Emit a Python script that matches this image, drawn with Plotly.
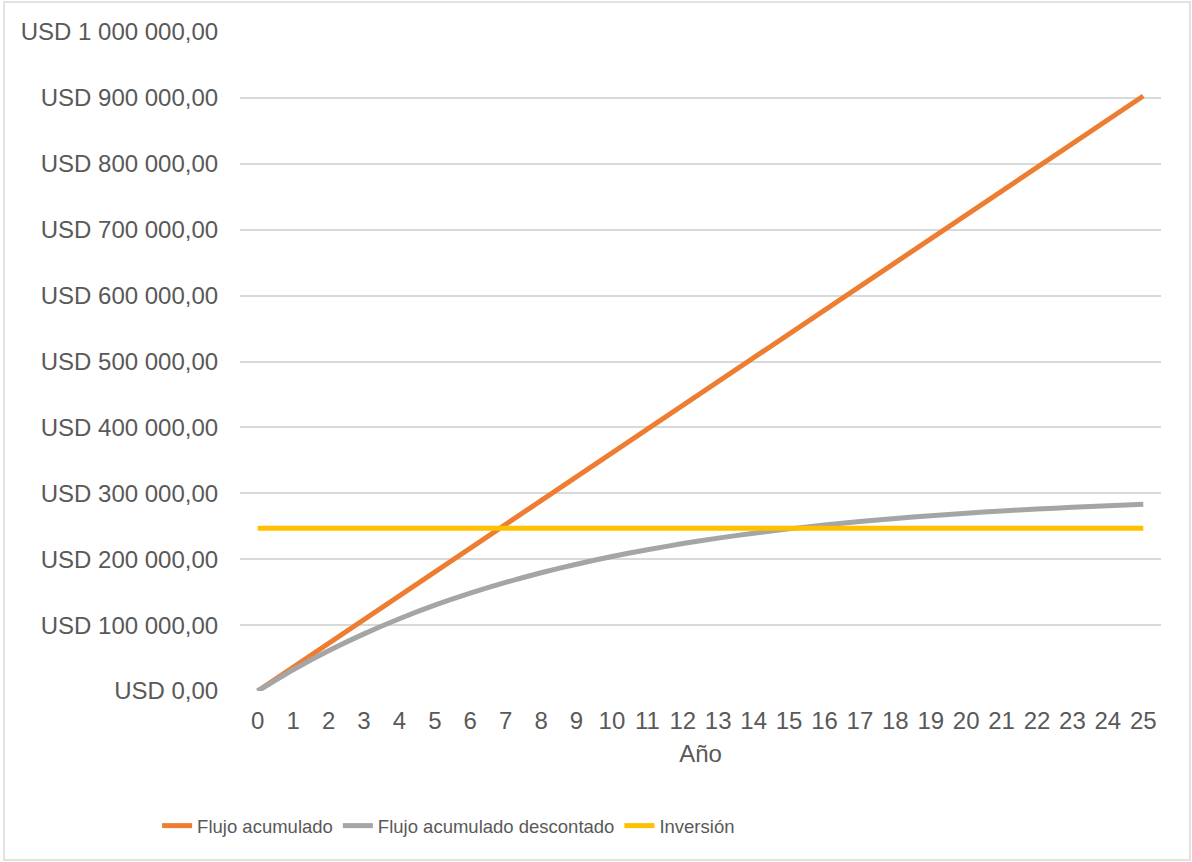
import plotly.graph_objects as go

# Years of the project horizon
anios = list(range(0, 26))

# Cumulative cash flow (USD)
flujo_acumulado = [0, 36100, 72200, 108300, 144500, 180600, 216700, 252800, 288900,
                   325000, 361200, 397300, 433400, 469500, 505600, 541700, 577900,
                   614000, 650100, 686200, 722300, 758400, 794600, 830700, 866800, 902900]

# Discounted cumulative cash flow (USD)
flujo_descontado = [0, 32200, 61000, 86700, 109700, 130200, 148500, 164800, 179400,
                    192400, 204100, 214400, 223700, 232000, 239400, 246000, 251900,
                    257100, 261800, 266000, 269800, 273100, 276100, 278800, 281100, 283300]

# Initial investment (USD), constant over the horizon
inversion = [247000] * 26

# Y-axis ticks
y_ticks = [0, 100000, 200000, 300000, 400000, 500000, 600000, 700000, 800000, 900000, 1000000]
y_tick_labels = ["USD 0,00", "USD 100 000,00", "USD 200 000,00", "USD 300 000,00",
                 "USD 400 000,00", "USD 500 000,00", "USD 600 000,00", "USD 700 000,00",
                 "USD 800 000,00", "USD 900 000,00", "USD 1 000 000,00"]

TXT = "#595959"
GRID = "#D9D9D9"
FONT = "Liberation Sans, Arial, sans-serif"

fig = go.Figure()
fig.add_trace(go.Scatter(x=anios, y=flujo_acumulado, mode="lines", name="Flujo acumulado",
                         line=dict(color="#ED7D31", width=5)))
fig.add_trace(go.Scatter(x=anios, y=flujo_descontado, mode="lines", name="Flujo acumulado descontado",
                         line=dict(color="#A5A5A5", width=5, shape="spline", smoothing=0.6)))
fig.add_trace(go.Scatter(x=anios, y=inversion, mode="lines", name="Inversión",
                         line=dict(color="#FFC000", width=5)))

fig.update_layout(
    width=1192, height=862,
    margin=dict(l=240, r=31, t=32, b=171),
    paper_bgcolor="white", plot_bgcolor="white",
    font=dict(family=FONT, color=TXT, size=24),
    xaxis=dict(
        range=[-0.5, 25.5], tickmode="array", tickvals=anios,
        ticktext=[str(a) for a in anios],
        showgrid=False, zeroline=False, showline=False,
        ticks="outside", ticklen=8, tickcolor="rgba(0,0,0,0)",
        tickfont=dict(size=24, color=TXT),
        title=dict(text="Año", font=dict(size=24, color=TXT), standoff=12),
    ),
    yaxis=dict(
        range=[0, 1000000], tickmode="array", tickvals=y_ticks, ticktext=y_tick_labels,
        showgrid=True, gridcolor=GRID, gridwidth=1.5,
        zeroline=False, showline=False,
        ticks="outside", ticklen=16, tickcolor="rgba(0,0,0,0)",
        tickfont=dict(size=24, color=TXT),
    ),
    legend=dict(
        orientation="h", x=-0.09, xanchor="left", y=-0.205, yanchor="middle",
        font=dict(family=FONT, size=18.5, color=TXT),
        bgcolor="rgba(0,0,0,0)", itemwidth=30,
    ),
    shapes=[
        # outer chart border
        dict(type="rect", xref="paper", yref="paper",
             x0=-0.2562, x1=1.0315, y0=-0.2565, y1=1.0455,
             line=dict(color=GRID, width=1.5), fillcolor="rgba(0,0,0,0)", layer="below"),
    ],
)

fig.write_html("out.html")
